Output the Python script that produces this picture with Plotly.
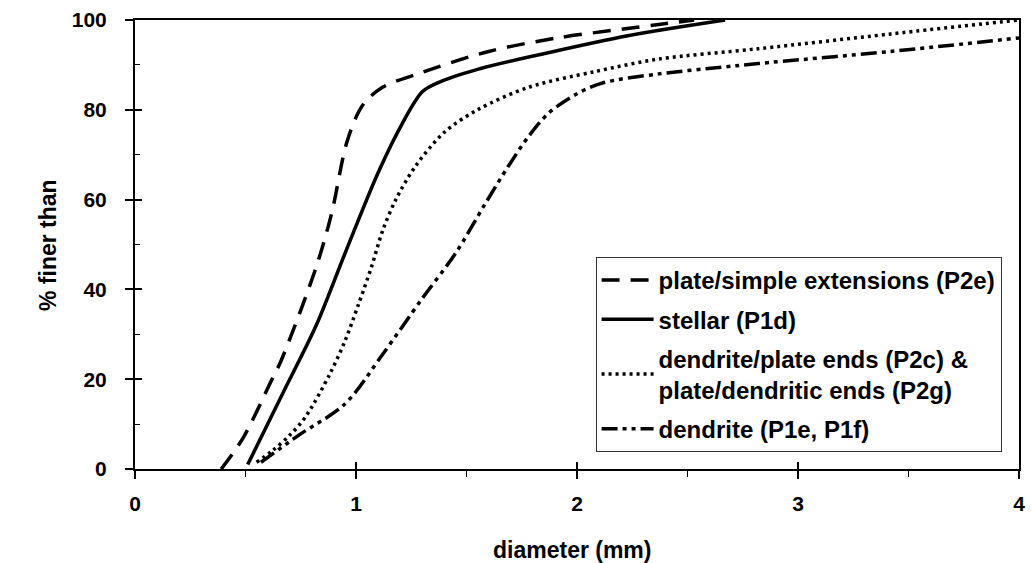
import plotly.graph_objects as go

# ---- data ----
plate_x = [0.39, 0.49, 0.62, 0.66, 0.82, 0.89, 0.96, 1.03, 1.12, 1.28, 1.60, 1.91, 2.21, 2.37, 2.53]
plate_y = [0, 7, 20, 24, 45, 57, 73, 81, 85, 88, 93, 96, 98, 99, 100]

stellar_x = [0.51, 0.67, 0.82, 0.95, 1.10, 1.21, 1.30, 1.37, 1.55, 1.85, 2.23, 2.67]
stellar_y = [1, 17, 32, 48, 66, 77, 84, 86, 89, 92.5, 96.5, 100]

dotted_x = [0.55, 0.62, 0.70, 0.77, 0.88, 0.95, 1.01, 1.07, 1.12, 1.18, 1.27, 1.40, 1.55, 1.78, 2.08, 2.37, 2.82, 3.42, 4.00]
dotted_y = [1.5, 4, 7.5, 11.5, 21, 28.5, 36.5, 45, 53, 60, 67.5, 75, 80, 85, 88.5, 91.3, 93.6, 96.9, 100]

dendrite_x = [0.57, 0.74, 0.95, 1.12, 1.30, 1.45, 1.58, 1.69, 1.78, 1.87, 1.99, 2.11, 2.37, 2.66, 2.82, 3.42, 4.00]
dendrite_y = [1.5, 7.5, 14.5, 25.5, 38, 48, 58.7, 67.5, 74, 79.2, 83.3, 85.9, 88, 89.5, 90.3, 93, 96]

names = ["plate/simple extensions (P2e)",
         "stellar (P1d)",
         "dendrite/plate ends (P2c) &<br>plate/dendritic ends (P2g)",
         "dendrite (P1e, P1f)"]

x_ticks = [0, 1, 2, 3, 4]
y_ticks = [0, 20, 40, 60, 80, 100]

FONT = "Liberation Sans, Arial, sans-serif"
LW = 3.5

fig = go.Figure()
series = [
    (plate_x, plate_y, "18px,11px"),
    (stellar_x, stellar_y, "solid"),
    (dotted_x, dotted_y, "3px,4px"),
    (dendrite_x, dendrite_y, "16px,5px,4px,5px,4px,5px"),
]
for i, ((xs, ys, dash), nm) in enumerate(zip(series, names)):
    fig.add_trace(go.Scatter(
        x=xs, y=ys, name=nm, mode="lines", legendgroup=f"g{i}",
        line=dict(color="black", width=LW, dash=dash, shape="spline", smoothing=0.9),
    ))

# invisible trace on the overlay axes (for inside half of crossing ticks)
fig.add_trace(go.Scatter(x=[0], y=[0], xaxis="x2", yaxis="y2", mode="markers",
                         marker=dict(opacity=0), showlegend=False, hoverinfo="skip"))

tickfont = dict(family=FONT, size=21, color="black", weight="bold")

fig.update_layout(
    width=1033, height=563,
    margin=dict(l=135, r=8, t=16, b=94),
    paper_bgcolor="white", plot_bgcolor="white",
    showlegend=True,
    legend=dict(
        x=0.521, y=0.4724, xanchor="left", yanchor="top",
        bgcolor="white", bordercolor="#333", borderwidth=1,
        font=dict(family=FONT, size=24, color="black", weight="bold"),
        itemwidth=52,
        tracegroupgap=5,
    ),
    xaxis=dict(
        range=[0, 4], tickvals=x_ticks, ticktext=[str(v) for v in x_ticks],
        showgrid=False, zeroline=False,
        showline=True, linecolor="black", linewidth=2, mirror=True,
        ticks="outside", ticklen=8, tickwidth=1.5, tickcolor="black",
        minor=dict(dtick=0.5, ticks="outside", ticklen=6, tickwidth=1, tickcolor="black"),
        tickfont=tickfont, ticklabelstandoff=7,
    ),
    yaxis=dict(
        range=[0, 100], tickvals=y_ticks, ticktext=[str(v) for v in y_ticks],
        showgrid=False, zeroline=False,
        showline=True, linecolor="black", linewidth=2, mirror=True,
        ticks="outside", ticklen=8, tickwidth=1.5, tickcolor="black",
        tickfont=tickfont, ticklabelstandoff=14,
    ),
    xaxis2=dict(
        overlaying="x", matches="x", anchor="y2", side="bottom",
        range=[0, 4], tickvals=x_ticks, showticklabels=False,
        showgrid=False, zeroline=False, showline=False,
        ticks="inside", ticklen=7, tickwidth=1.5, tickcolor="black",
    ),
    yaxis2=dict(
        overlaying="y", matches="y", anchor="x2", side="left",
        range=[0, 100], tickvals=y_ticks, showticklabels=False,
        showgrid=False, zeroline=False, showline=False,
        ticks="inside", ticklen=7, tickwidth=1.5, tickcolor="black",
        minor=dict(dtick=10, ticks="inside", ticklen=5, tickwidth=1, tickcolor="black"),
    ),
    annotations=[
        dict(text="diameter (mm)", xref="paper", yref="paper",
             x=0.494, y=-0.181, xanchor="center", yanchor="middle", showarrow=False,
             font=dict(family=FONT, size=23, color="black", weight="bold")),
        dict(text="% finer than", xref="paper", yref="paper",
             x=-0.099, y=0.5, xanchor="center", yanchor="middle", showarrow=False,
             textangle=-90,
             font=dict(family=FONT, size=23, color="black", weight="bold")),
    ],
)

fig.write_html("out.html")
